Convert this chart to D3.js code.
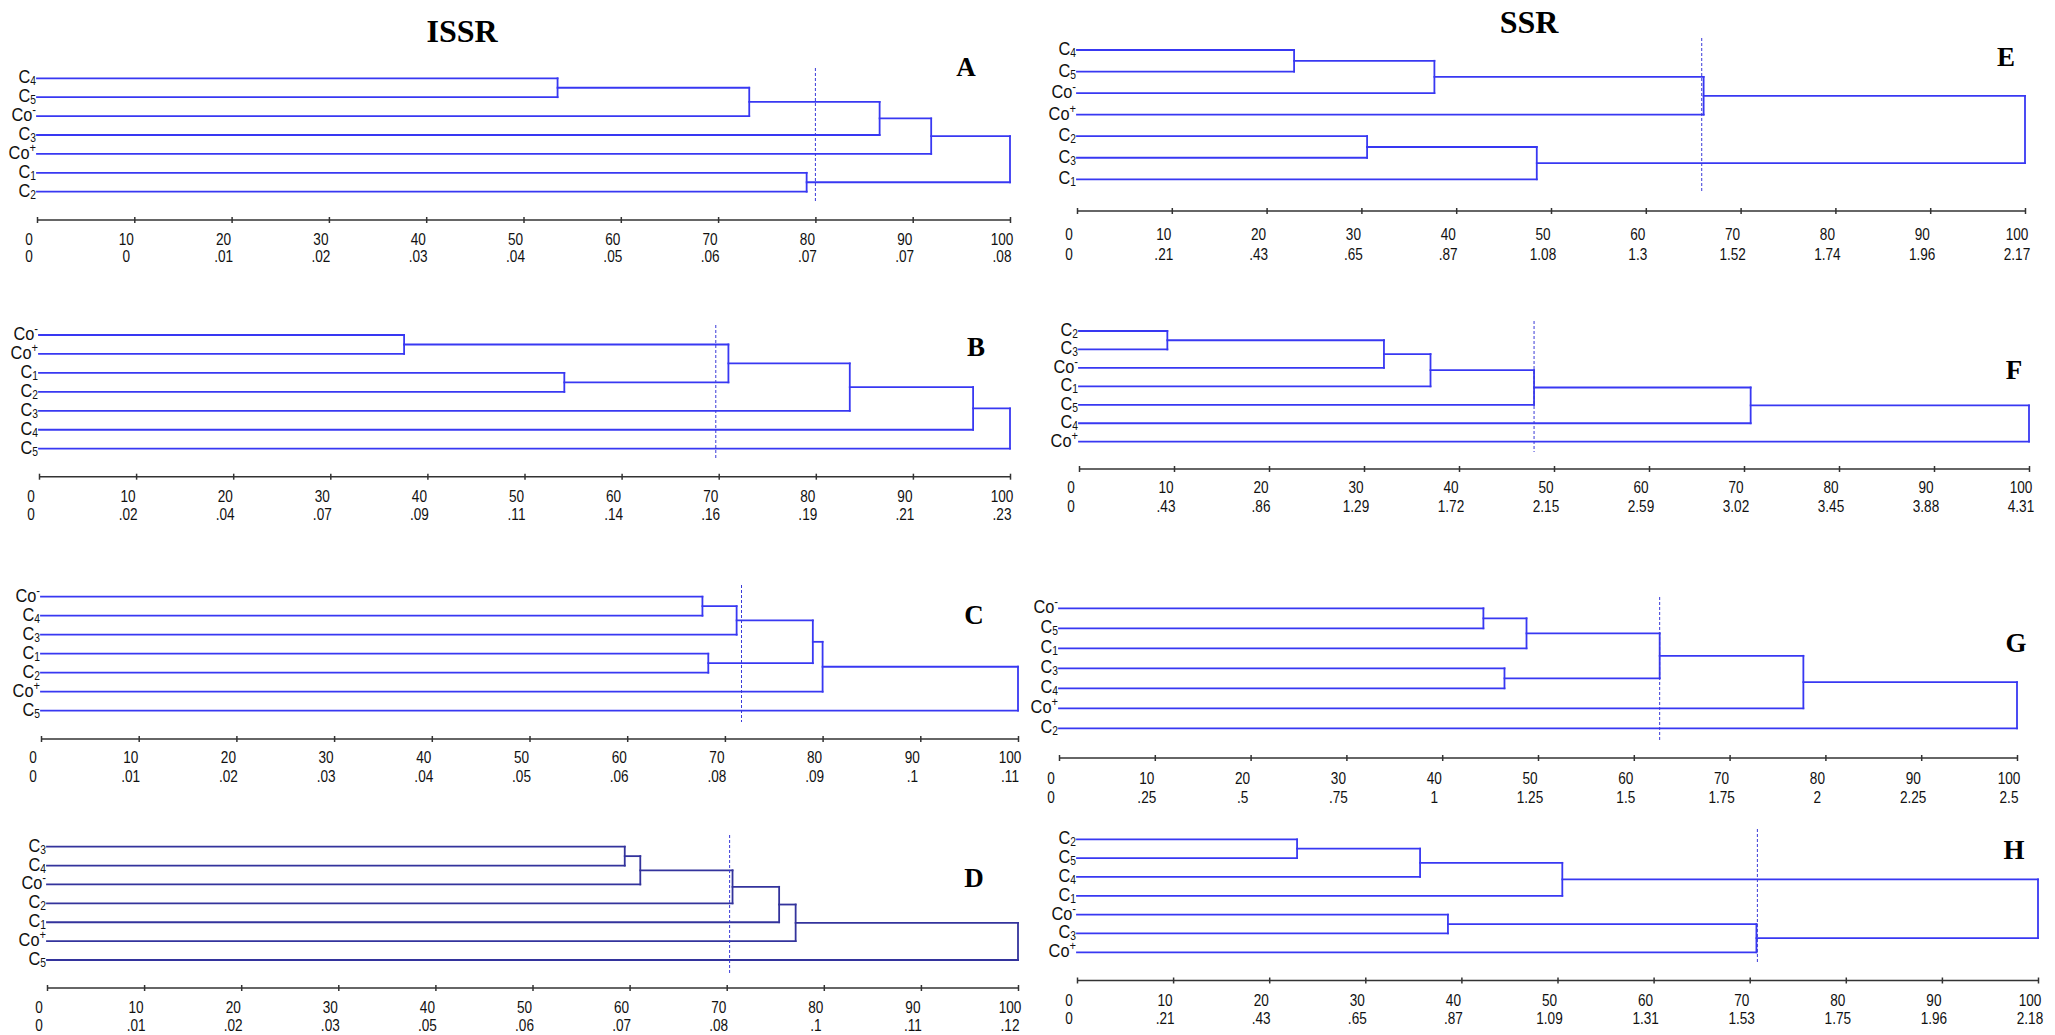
<!DOCTYPE html>
<html lang="en">
<head>
  <meta charset="UTF-8">
  <title>ISSR / SSR dendrograms</title>
  <script src="https://d3js.org/d3.v7.min.js"></script>
  <style>
    body { margin: 0; background: #fff; }
    svg { display: block; }
    .branch { stroke: #3838f2; stroke-width: 1.8; fill: none; stroke-linecap: square; }
    .dark .branch { stroke: #33339c; }
    .cut { stroke: #3a3ad8; stroke-width: 1; stroke-dasharray: 3 2; }
    .axis line, .baseline { stroke: #333; stroke-width: 1.5; }
    .leaf, .tick-label { font-family: "Liberation Sans", Arial, sans-serif; fill: #111; }
    .leaf { font-size: 19px; }
    .tick-label { font-size: 16px; }
    .title, .letter { font-family: "Liberation Serif", "Times New Roman", serif; font-weight: bold; fill: #000; }
    .title { font-size: 32px; }
    .letter { font-size: 27px; }
  </style>
</head>
<body>
  <svg></svg>
  <script>
    // percent scale shared by every panel
    const pctTicks = [0, 10, 20, 30, 40, 50, 60, 70, 80, 90, 100]

    // leaves top to bottom; merges: [childA, childB, height], new clusters numbered from 7
    const leavesA = ['C4', 'C5', 'Co-', 'C3', 'Co+', 'C1', 'C2']
    const mergesA = [[0, 1, 53.5], [7, 2, 73.2], [8, 3, 86.6], [9, 4, 91.9], [5, 6, 79.1], [10, 11, 100]]
    const cutA = 80.0
    const distA = ['0', '0', '.01', '.02', '.03', '.04', '.05', '.06', '.07', '.07', '.08']

    const leavesB = ['Co-', 'Co+', 'C1', 'C2', 'C3', 'C4', 'C5']
    const mergesB = [[0, 1, 37.6], [2, 3, 54.1], [7, 8, 71.0], [9, 4, 83.5], [10, 5, 96.2], [11, 6, 100]]
    const cutB = 69.7
    const distB = ['0', '.02', '.04', '.07', '.09', '.11', '.14', '.16', '.19', '.21', '.23']

    const leavesC = ['Co-', 'C4', 'C3', 'C1', 'C2', 'Co+', 'C5']
    const mergesC = [[0, 1, 67.7], [7, 2, 71.2], [3, 4, 68.3], [8, 9, 79.0], [10, 5, 80.0], [11, 6, 100]]
    const cutC = 71.7
    const distC = ['0', '.01', '.02', '.03', '.04', '.05', '.06', '.08', '.09', '.1', '.11']

    const leavesD = ['C3', 'C4', 'Co-', 'C2', 'C1', 'Co+', 'C5']
    const mergesD = [[0, 1, 59.5], [7, 2, 61.1], [8, 3, 70.6], [9, 4, 75.4], [10, 5, 77.1], [11, 6, 100]]
    const cutD = 70.3
    const distD = ['0', '.01', '.02', '.03', '.05', '.06', '.07', '.08', '.1', '.11', '.12']

    const leavesE = ['C4', 'C5', 'Co-', 'Co+', 'C2', 'C3', 'C1']
    const mergesE = [[0, 1, 22.9], [7, 2, 37.7], [8, 3, 66.1], [4, 5, 30.6], [10, 6, 48.5], [9, 11, 100]]
    const cutE = 65.9
    const distE = ['0', '.21', '.43', '.65', '.87', '1.08', '1.3', '1.52', '1.74', '1.96', '2.17']

    const leavesF = ['C2', 'C3', 'Co-', 'C1', 'C5', 'C4', 'Co+']
    const mergesF = [[0, 1, 9.3], [7, 2, 32.1], [8, 3, 37.0], [9, 4, 47.9], [10, 5, 70.7], [11, 6, 100]]
    const cutF = 47.9
    const distF = ['0', '.43', '.86', '1.29', '1.72', '2.15', '2.59', '3.02', '3.45', '3.88', '4.31']

    const leavesG = ['Co-', 'C5', 'C1', 'C3', 'C4', 'Co+', 'C2']
    const mergesG = [[0, 1, 44.3], [7, 2, 48.8], [3, 4, 46.5], [8, 9, 62.7], [10, 5, 77.7], [11, 6, 100]]
    const cutG = 62.7
    const distG = ['0', '.25', '.5', '.75', '1', '1.25', '1.5', '1.75', '2', '2.25', '2.5']

    const leavesH = ['C2', 'C5', 'C4', 'C1', 'Co-', 'C3', 'Co+']
    const mergesH = [[0, 1, 22.9], [7, 2, 35.7], [8, 3, 50.5], [4, 5, 38.6], [10, 6, 70.7], [9, 11, 100]]
    const cutH = 70.8
    const distH = ['0', '.21', '.43', '.65', '.87', '1.09', '1.31', '1.53', '1.75', '1.96', '2.18']

    const panels = [
      { id: 'A', leaves: leavesA, merges: mergesA, cut: cutA, dist: distA },
      { id: 'B', leaves: leavesB, merges: mergesB, cut: cutB, dist: distB },
      { id: 'C', leaves: leavesC, merges: mergesC, cut: cutC, dist: distC },
      { id: 'D', leaves: leavesD, merges: mergesD, cut: cutD, dist: distD },
      { id: 'E', leaves: leavesE, merges: mergesE, cut: cutE, dist: distE },
      { id: 'F', leaves: leavesF, merges: mergesF, cut: cutF, dist: distF },
      { id: 'G', leaves: leavesG, merges: mergesG, cut: cutG, dist: distG },
      { id: 'H', leaves: leavesH, merges: mergesH, cut: cutH, dist: distH }
    ]

    // where each panel sits on the page
    const layout = {
      A: { x0: 37, x1: 1010, top: 78.3, bottom: 191.7, axisY: 220, cut: [68, 203], letter: [966, 67], rows: [240, 257] },
      B: { x0: 39, x1: 1010, top: 335, bottom: 448.7, axisY: 476.7, cut: [325, 460], letter: [976, 347], rows: [497, 515] },
      C: { x0: 41, x1: 1018, top: 596.7, bottom: 710.7, axisY: 739, cut: [585, 722], letter: [974, 615], rows: [758, 777] },
      D: { x0: 47, x1: 1018, top: 846.7, bottom: 960, axisY: 988, cut: [835, 973], letter: [974, 878], rows: [1008, 1026], dark: true },
      E: { x0: 1077, x1: 2025, top: 50, bottom: 179.3, axisY: 211, cut: [38, 193], letter: [2006, 57], rows: [235, 255] },
      F: { x0: 1079, x1: 2029, top: 331, bottom: 441.7, axisY: 469, cut: [321, 452], letter: [2014, 370], rows: [488, 507] },
      G: { x0: 1059, x1: 2017, top: 608.3, bottom: 728.3, axisY: 758, cut: [597, 741], letter: [2016, 643], rows: [779, 798] },
      H: { x0: 1077, x1: 2038, top: 839.3, bottom: 952.3, axisY: 980.5, cut: [829, 964], letter: [2014, 850], rows: [1001, 1019] }
    }

    const WIDTH = 2055
    const HEIGHT = 1035

    const svg = d3.select('svg')
      .attr('width', WIDTH)
      .attr('height', HEIGHT)

    svg.append('text').attr('class', 'title')
      .attr('x', 462).attr('y', 31).attr('text-anchor', 'middle').attr('dominant-baseline', 'central')
      .text('ISSR')
    svg.append('text').attr('class', 'title')
      .attr('x', 1529).attr('y', 22).attr('text-anchor', 'middle').attr('dominant-baseline', 'central')
      .text('SSR')

    panels.forEach(p => {
      const L = layout[p.id]
      const g = svg.append('g').attr('class', L.dark ? 'dark' : null)

      const x = d3.scaleLinear().domain([0, 100]).range([L.x0, L.x1])
      const y = d3.scalePoint().domain(p.leaves).range([L.top, L.bottom])

      // build node list: leaves first, then clusters in merge order
      const nodes = p.leaves.map(name => ({ h: 0, y: y(name) }))
      const segs = []
      p.merges.forEach(([a, b, h]) => {
        const na = nodes[a], nb = nodes[b]
        segs.push([x(na.h), na.y, x(h), na.y])
        segs.push([x(nb.h), nb.y, x(h), nb.y])
        segs.push([x(h), na.y, x(h), nb.y])
        nodes.push({ h: h, y: (na.y + nb.y) / 2 })
      })

      g.selectAll('line.branch')
        .data(segs)
        .join('line')
        .attr('class', 'branch')
        .attr('x1', d => d[0]).attr('y1', d => d[1])
        .attr('x2', d => d[2]).attr('y2', d => d[3])

      g.append('line').attr('class', 'cut')
        .attr('x1', x(p.cut)).attr('x2', x(p.cut))
        .attr('y1', L.cut[0]).attr('y2', L.cut[1])

      // leaf names with sub / superscripts
      const leaf = g.selectAll('text.leaf')
        .data(p.leaves)
        .join('text')
        .attr('class', 'leaf')
        .attr('text-anchor', 'end')
        .attr('transform', d => `translate(${L.x0 - 1},${y(d) + 5}) scale(0.86,1)`)
      leaf.append('tspan').text(d => d.startsWith('Co') ? 'Co' : 'C')
      leaf.append('tspan')
        .attr('font-size', d => d.startsWith('Co') ? 13 : 12)
        .attr('dy', d => d.startsWith('Co') ? -7 : 2)
        .text(d => d.startsWith('Co') ? d.slice(2) : d.slice(1))

      // axis
      g.append('line').attr('class', 'baseline')
        .attr('x1', L.x0).attr('x2', L.x1)
        .attr('y1', L.axisY).attr('y2', L.axisY)
      g.append('g')
        .attr('class', 'axis')
        .attr('transform', `translate(0,${L.axisY - 3})`)
        .call(d3.axisBottom(x).tickValues(pctTicks).tickSize(6).tickFormat(''))
        .call(s => s.select('.domain').remove())

      g.selectAll('text.pct')
        .data(pctTicks)
        .join('text')
        .attr('class', 'tick-label pct')
        .attr('text-anchor', 'middle')
        .attr('dominant-baseline', 'central')
        .attr('transform', d => `translate(${x(d) - 8},${L.rows[0]}) scale(0.85,1)`)
        .text(d => d)

      g.selectAll('text.dist')
        .data(p.dist)
        .join('text')
        .attr('class', 'tick-label dist')
        .attr('text-anchor', 'middle')
        .attr('dominant-baseline', 'central')
        .attr('transform', (d, i) => `translate(${x(pctTicks[i]) - 8},${L.rows[1]}) scale(0.85,1)`)
        .text(d => d)

      g.append('text').attr('class', 'letter')
        .attr('x', L.letter[0]).attr('y', L.letter[1])
        .attr('text-anchor', 'middle').attr('dominant-baseline', 'central')
        .text(p.id)
    })
  </script>
</body>
</html>
